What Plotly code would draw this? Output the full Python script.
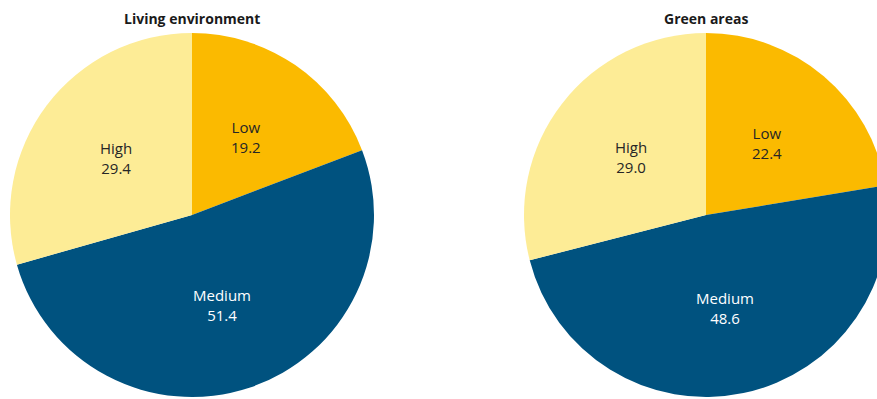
import math
import plotly.graph_objects as go

# ---- data ----
categories = ["Low", "Medium", "High"]
living_values = [19.2, 51.4, 29.4]
green_values = [22.4, 48.6, 29.0]
titles = ["Living environment", "Green areas"]

# ---- style ----
colors = ["#FBBA00", "#00527F", "#FDEC96"]
text_colors = ["#262626", "#ffffff", "#262626"]
FONT = "Open Sans"

W, H = 895, 399          # figure slightly wider than window: right pie is cut off like the reference
R = 182
LABEL_R = 0.52
centers = [(192, 215), (706, 215)]


def domain(cx, cy, r):
    yb = H - cy
    return dict(x=[(cx - r) / W, (cx + r) / W], y=[(yb - r) / H, (yb + r) / H])


fig = go.Figure()
for (cx, cy), vals, title in zip(centers, [living_values, green_values], titles):
    fig.add_trace(go.Pie(
        labels=categories,
        values=vals,
        sort=False,
        direction="clockwise",
        rotation=0,
        marker=dict(colors=colors, line=dict(width=0)),
        textinfo="none",
        domain=domain(cx, cy, R),
        showlegend=False,
        hoverinfo="label+value",
    ))
    total = sum(vals)
    cum = 0.0
    for lab, v, tc in zip(categories, vals, text_colors):
        ang = math.radians((cum + v / 2) / total * 360)
        cum += v
        px = cx + LABEL_R * R * math.sin(ang)
        py = cy - LABEL_R * R * math.cos(ang)
        fig.add_annotation(
            x=px / W, y=(H - py) / H, xref="paper", yref="paper",
            text=f"{lab}<br>{v:.1f}", showarrow=False,
            font=dict(family=FONT, size=15, color=tc),
            xanchor="center", yanchor="middle", align="center",
        )
    fig.add_annotation(
        x=cx / W, y=(H - 18) / H, xref="paper", yref="paper",
        text=f"<b>{title}</b>", showarrow=False,
        font=dict(family=FONT, size=14, color="#1a1a1a"),
        xanchor="center", yanchor="middle",
    )

fig.update_layout(
    width=W, height=H,
    margin=dict(l=0, r=0, t=0, b=0),
    paper_bgcolor="white",
    plot_bgcolor="white",
)

fig.write_html("out.html", post_script="document.documentElement.style.overflow='hidden';document.body.style.overflow='hidden';")
